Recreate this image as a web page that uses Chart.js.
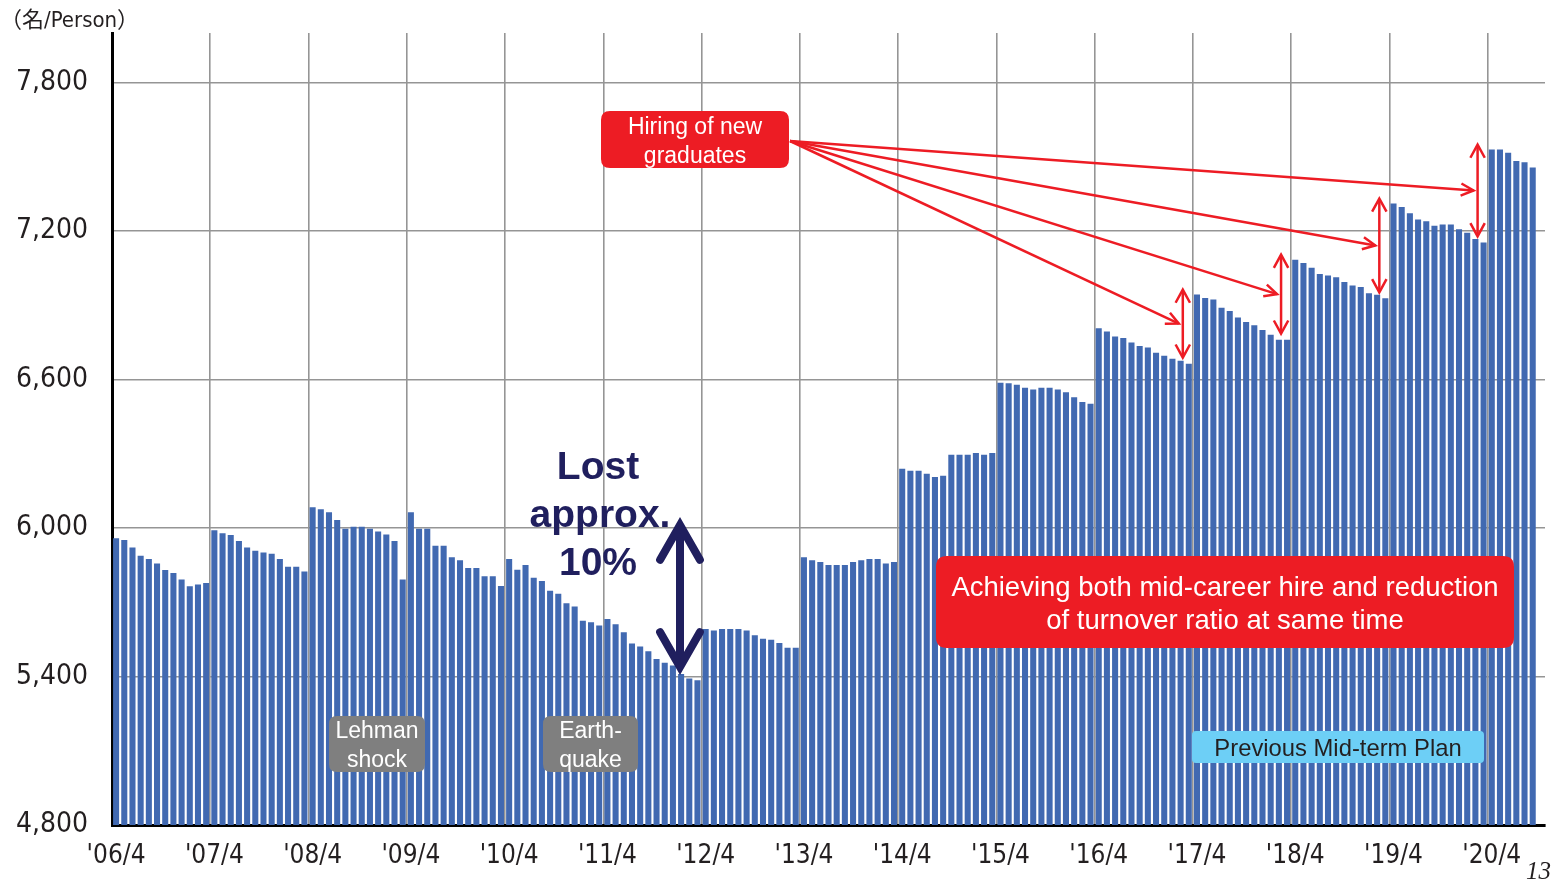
<!DOCTYPE html>
<html>
<head>
<meta charset="utf-8">
<title>Headcount</title>
<script src="https://cdn.jsdelivr.net/npm/chart.js@4/dist/chart.umd.min.js"></script>
<style>
  html, body { margin: 0; padding: 0; background: #fff; }
  #wrap { width: 1553px; height: 881px; position: relative; }
</style>
</head>
<body>
<div id="wrap"><canvas id="myChart"></canvas></div>
<script>
// month-end headcount per fiscal year (April .. March)
const fy2006 = [5959, 5952, 5921, 5888, 5875, 5857, 5830, 5818, 5792, 5765, 5772, 5778];
const fy2007 = [5991, 5979, 5972, 5947, 5921, 5908, 5901, 5896, 5875, 5843, 5843, 5824];
const fy2008 = [6084, 6076, 6064, 6032, 5997, 6005, 6005, 5997, 5986, 5974, 5947, 5792];
const fy2009 = [6064, 5997, 5997, 5928, 5928, 5882, 5870, 5838, 5838, 5805, 5805, 5766];
const fy2010 = [5875, 5831, 5851, 5799, 5786, 5746, 5734, 5696, 5683, 5625, 5619, 5606];
const fy2011 = [5632, 5611, 5579, 5533, 5521, 5502, 5471, 5456, 5444, 5410, 5392, 5385];
const fy2012 = [5592, 5586, 5592, 5592, 5592, 5586, 5567, 5553, 5548, 5535, 5516, 5516];
const fy2013 = [5882, 5870, 5863, 5851, 5851, 5851, 5863, 5870, 5875, 5875, 5857, 5863];
const fy2014 = [6239, 6231, 6231, 6219, 6206, 6211, 6296, 6296, 6296, 6303, 6296, 6303];
const fy2015 = [6587, 6585, 6579, 6567, 6560, 6567, 6567, 6560, 6548, 6528, 6509, 6502];
const fy2016 = [6807, 6794, 6774, 6768, 6749, 6735, 6729, 6708, 6696, 6684, 6676, 6664];
const fy2017 = [6943, 6929, 6923, 6890, 6877, 6851, 6832, 6819, 6800, 6781, 6761, 6761];
const fy2018 = [7084, 7071, 7052, 7026, 7020, 7013, 6994, 6980, 6974, 6948, 6942, 6928];
const fy2019 = [7311, 7297, 7272, 7246, 7239, 7221, 7226, 7226, 7207, 7193, 7168, 7154];
const fy2020 = [7529, 7529, 7516, 7483, 7478, 7457];

const fiscalYears = [2006, 2007, 2008, 2009, 2010, 2011, 2012, 2013, 2014, 2015, 2016, 2017, 2018, 2019, 2020];
const yTicks = [4800, 5400, 6000, 6600, 7200, 7800];
const yMin = 4800;
const yMax = 8000;

// April months where new graduates join
const hiringMonths = ["'17/4", "'18/4", "'19/4", "'20/4"];

const headcount = [].concat(fy2006, fy2007, fy2008, fy2009, fy2010, fy2011, fy2012,
  fy2013, fy2014, fy2015, fy2016, fy2017, fy2018, fy2019, fy2020);
headcount.push(null); // one empty slot at the right end

const labels = [];
fiscalYears.forEach(fy => {
  for (let k = 0; k < 12; k++) {
    const m = (k + 3) % 12 + 1;
    const yr = k < 9 ? fy : fy + 1;
    labels.push("'" + String(yr % 100).padStart(2, '0') + '/' + m);
  }
});
labels.length = headcount.length;

const narrow = "'Liberation Sans Narrow', 'DejaVu Sans Condensed', 'Noto Sans CJK JP', sans-serif";
const sans = "'Liberation Sans', Arial, sans-serif";
const red = '#ED1C24';
const navy = '#201F5E';
const gridGray = '#959595';

function roundRect(ctx, x, y, w, h, r) {
  ctx.beginPath();
  ctx.moveTo(x + r, y);
  ctx.lineTo(x + w - r, y);
  ctx.quadraticCurveTo(x + w, y, x + w, y + r);
  ctx.lineTo(x + w, y + h - r);
  ctx.quadraticCurveTo(x + w, y + h, x + w - r, y + h);
  ctx.lineTo(x + r, y + h);
  ctx.quadraticCurveTo(x, y + h, x, y + h - r);
  ctx.lineTo(x, y + r);
  ctx.quadraticCurveTo(x, y, x + r, y);
  ctx.closePath();
}

function textBox(ctx, x, y, w, h, r, fill, lines, color, font, lineGap) {
  ctx.fillStyle = fill;
  roundRect(ctx, x, y, w, h, r);
  ctx.fill();
  ctx.fillStyle = color;
  ctx.font = font;
  ctx.textAlign = 'center';
  ctx.textBaseline = 'middle';
  // middle baseline sits a little high for latin text
  const cy = y + h / 2 + 2.5 - (lines.length - 1) * lineGap / 2;
  lines.forEach((t, i) => ctx.fillText(t, x + w / 2, cy + i * lineGap));
}

// open V head at (tx, ty) pointing along angle
function arrowHead(ctx, tx, ty, angle, len, spread) {
  ctx.beginPath();
  ctx.moveTo(tx - len * Math.cos(angle - spread), ty - len * Math.sin(angle - spread));
  ctx.lineTo(tx, ty);
  ctx.lineTo(tx - len * Math.cos(angle + spread), ty - len * Math.sin(angle + spread));
  ctx.stroke();
}

function line(ctx, x1, y1, x2, y2) {
  ctx.beginPath();
  ctx.moveTo(x1, y1);
  ctx.lineTo(x2, y2);
  ctx.stroke();
}

const annotations = {
  id: 'annotations',
  afterDraw(chart) {
    const { ctx, scales: { x, y } } = chart;
    ctx.save();

    // unit
    ctx.fillStyle = '#231F20';
    ctx.font = '22px ' + narrow;
    ctx.textAlign = 'left';
    ctx.textBaseline = 'middle';
    ctx.fillText('（名/Person）', 0, 21);

    // hiring jumps: vertical double arrows and leader lines
    const start = { x: 790, y: 141 };
    ctx.strokeStyle = red;
    ctx.lineWidth = 2.5;
    ctx.lineJoin = 'miter';
    ctx.lineCap = 'butt';
    hiringMonths.forEach(lbl => {
      const i = labels.indexOf(lbl);
      const xv = x.getPixelForValue(i - 1) - 6;
      const top = y.getPixelForValue(headcount[i]) - 5;
      const bottom = y.getPixelForValue(headcount[i - 1]) - 6;
      line(ctx, xv, top + 1, xv, bottom - 1);
      arrowHead(ctx, xv, top, -Math.PI / 2, 15, 0.5);
      arrowHead(ctx, xv, bottom, Math.PI / 2, 15, 0.5);
      const tx = xv - 4;
      const ty = (top + bottom) / 2;
      line(ctx, start.x, start.y, tx, ty);
      arrowHead(ctx, tx, ty, Math.atan2(ty - start.y, tx - start.x), 14, 0.45);
    });

    textBox(ctx, 601, 111, 188, 57, 9, red, ['Hiring of new', 'graduates'], '#fff', '23px ' + sans, 29);

    // lost headcount
    ctx.fillStyle = navy;
    ctx.font = 'bold 39px ' + sans;
    ctx.textAlign = 'center';
    ctx.textBaseline = 'middle';
    ctx.fillText('Lost', 598, 468);
    ctx.fillText('approx.', 600, 516);
    ctx.fillText('10%', 598, 564);

    ctx.strokeStyle = navy;
    ctx.lineWidth = 8;
    ctx.lineCap = 'round';
    ctx.lineJoin = 'miter';
    line(ctx, 680, 530, 680, 662);
    arrowHead(ctx, 680, 525, -Math.PI / 2, 40, 0.52);
    arrowHead(ctx, 680, 667, Math.PI / 2, 40, 0.52);

    textBox(ctx, 936, 556, 578, 92, 11, red,
      ['Achieving both mid-career hire and reduction', 'of turnover ratio at same time'],
      '#fff', '27.5px ' + sans, 33);

    textBox(ctx, 329, 716, 96, 56, 8, '#7F7F7F', ['Lehman', 'shock'], '#fff', '23px ' + sans, 29);
    textBox(ctx, 543, 716, 95, 56, 8, '#7F7F7F', ['Earth-', 'quake'], '#fff', '23px ' + sans, 29);
    textBox(ctx, 1192, 731, 292, 32, 4, '#6DCFF6', ['Previous Mid-term Plan'], '#231F20', '23.8px ' + sans, 0);

    // page number
    ctx.fillStyle = '#231F20';
    ctx.font = 'italic 25px "Liberation Serif", serif';
    ctx.textAlign = 'right';
    ctx.textBaseline = 'alphabetic';
    ctx.fillText('13', 1551, 879);

    ctx.restore();
  }
};

const ctx = document.getElementById('myChart').getContext('2d');
const myChart = new Chart(ctx, {
  type: 'bar',
  data: {
    labels: labels,
    datasets: [{
      label: 'Headcount',
      data: headcount,
      backgroundColor: '#4169B1',
      borderWidth: 0,
      barPercentage: 0.74,
      categoryPercentage: 1.0
    }]
  },
  options: {
    responsive: true,
    maintainAspectRatio: false,
    animation: false,
    layout: { padding: { top: 33, right: 8, left: 0, bottom: 0 } },
    plugins: {
      legend: { display: false },
      tooltip: { enabled: false }
    },
    scales: {
      x: {
        afterFit(scale) {
          scale.height = 56;
          scale.paddingLeft = 0;
          scale.paddingRight = 0;
        },
        ticks: {
          autoSkip: false,
          maxRotation: 0,
          minRotation: 0,
          padding: 16,
          color: '#231F20',
          font: { family: narrow, size: 26 },
          callback(value, index) {
            const l = labels[index];
            return l.endsWith('/4') ? l : '';
          }
        },
        grid: {
          offset: true,
          drawTicks: false,
          lineWidth: 1.6,
          color(c) {
            return (c.index > 0 && c.index % 12 === 0) ? gridGray : 'rgba(0,0,0,0)';
          }
        },
        border: { color: '#000', width: 3 }
      },
      y: {
        min: yMin,
        max: yMax,
        afterBuildTicks(scale) { scale.ticks = yTicks.map(v => ({ value: v })); },
        afterFit(scale) {
          scale.width = 112;
          scale.paddingTop = 0;
          scale.paddingBottom = 0;
        },
        ticks: {
          padding: 24,
          color: '#231F20',
          font: { family: narrow, size: 28 },
          callback: v => String(v).replace(/\B(?=(\d{3})+(?!\d))/g, ',')
        },
        grid: { color: gridGray, lineWidth: 1.6, drawTicks: false },
        border: { color: '#000', width: 3 }
      }
    }
  },
  plugins: [annotations]
});
</script>
</body>
</html>
